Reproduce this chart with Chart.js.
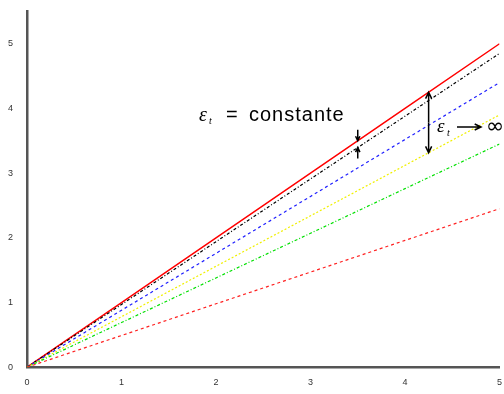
<!DOCTYPE html>
<html>
<head>
<meta charset="utf-8">
<script src="https://cdn.jsdelivr.net/npm/chart.js@4.4.0/dist/chart.umd.min.js"></script>
<style>
  html, body { margin: 0; padding: 0; background: #fff; }
  #wrap { width: 504px; height: 394px; }
</style>
</head>
<body>
<div id="wrap"><canvas id="strain-chart"></canvas></div>
<script>
// Chart data
var xValues = [0, 1, 2, 3, 4, 5];
var tickLabels = ["0", "1", "2", "3", "4", "5"];
var redSolid = [0, 1.0, 2.0, 3.0, 4.0, 5.0];
var blackDashDot = [0, 0.97, 1.94, 2.91, 3.88, 4.85];
var blueDashed = [0, 0.88, 1.76, 2.64, 3.52, 4.4];
var yellowDotted = [0, 0.78, 1.56, 2.34, 3.12, 3.9];
var greenDashDot = [0, 0.69, 1.38, 2.07, 2.76, 3.45];
var redDashed = [0, 0.49, 0.98, 1.47, 1.96, 2.45];

function toPoints(ys) {
    return xValues.map(function(x, i) { return { x: x, y: ys[i] }; });
}

function series(ys, color, dash, width) {
    return {
        data: toPoints(ys),
        borderColor: color,
        borderWidth: width || 1.2,
        borderDash: dash,
        pointRadius: 0,
        fill: false,
        tension: 0
    };
}

// annotations: text and arrows placed through the scales
var annotations = {
    id: "annotations",
    afterDatasetsDraw: function(chart) {
        var c = chart.ctx, xs = chart.scales.x, ys = chart.scales.y;
        function px(v) { return xs.getPixelForValue(v); }
        function py(v) { return ys.getPixelForValue(v); }
        function arrow(x1, y1, x2, y2, head) {
            var a = Math.atan2(y2 - y1, x2 - x1);
            c.beginPath();
            c.moveTo(x1, y1); c.lineTo(x2, y2);
            c.moveTo(x2 - head * Math.cos(a - 0.45), y2 - head * Math.sin(a - 0.45));
            c.lineTo(x2, y2);
            c.lineTo(x2 - head * Math.cos(a + 0.45), y2 - head * Math.sin(a + 0.45));
            c.stroke();
        }
        c.save();
        c.strokeStyle = "#000";
        c.fillStyle = "#000";
        c.lineWidth = 1.5;

        // small arrows between red and black at x = 3.5
        var xa = px(3.5);
        var yr = py(3.5 * redSolid[5] / 5), yb = py(3.5 * blackDashDot[5] / 5);
        arrow(xa, yr - 11, xa, yr, 5);
        arrow(xa, yb + 11, xa, yb, 5);

        // big double arrow at x = 4.25
        var xb = px(4.25);
        var y1 = py(4.25 * redSolid[5] / 5), y2 = py(4.25 * yellowDotted[5] / 5);
        arrow(xb, (y1 + y2) / 2, xb, y1, 7);
        arrow(xb, (y1 + y2) / 2, xb, y2, 7);

        // text: eps_t = constante
        c.textBaseline = "alphabetic";
        c.font = "italic 20px 'Liberation Serif'";
        c.fillText("\u03b5", 199, 121);
        c.font = "italic 10px 'Liberation Serif'";
        c.fillText("t", 209, 124);
        c.font = "20px 'Liberation Sans'";
        c.fillText("=", 226, 121);
        c.letterSpacing = "1px";
        c.fillText("constante", 249, 121);
        c.letterSpacing = "0px";

        // text: eps_t -> infinity
        c.font = "italic 19px 'Liberation Serif'";
        c.fillText("\u03b5", 437, 132);
        c.font = "italic 10px 'Liberation Serif'";
        c.fillText("t", 447, 136);
        arrow(457, 127, 481, 127, 7);
        c.font = "22px 'DejaVu Sans'";
        c.fillText("\u221e", 486, 133);
        c.restore();
    }
};

var chartData = {
    datasets: [
        series(redDashed, "#ff2020", [3, 3]),
        series(greenDashDot, "#00e000", [3, 2, 1, 2]),
        series(yellowDotted, "#f0f000", [2, 2]),
        series(blueDashed, "#2020ff", [3, 3]),
        series(blackDashDot, "#000000", [3, 2, 1, 2]),
        series(redSolid, "#ff0000", [], 1.5)
    ]
};

var chartOptions = {
    responsive: true,
    maintainAspectRatio: false,
    animation: false,
    layout: { padding: { top: 6, right: 1, left: 2, bottom: 4 } },
    plugins: {
        legend: { display: false },
        tooltip: { enabled: false }
    },
    scales: {
        x: {
            type: "linear",
            min: 0,
            max: 5,
            border: { display: true, color: "#555", width: 2.5 },
            grid: { display: false },
            ticks: {
                stepSize: 1,
                color: "#333",
                font: { size: 9, family: "Liberation Sans" },
                padding: 2,
                callback: function(v, i) { return tickLabels[i]; }
            }
        },
        y: {
            min: 0,
            max: 5.5,
            border: { display: true, color: "#555", width: 2.5 },
            grid: { display: false },
            ticks: {
                stepSize: 1,
                color: "#333",
                font: { size: 9, family: "Liberation Sans" },
                padding: 6,
                callback: function(v) { return Number.isInteger(v) ? tickLabels[v] : ""; }
            }
        }
    }
};

var ctx = document.getElementById("strain-chart");
var strainChart = new Chart(ctx, {
    type: "line",
    data: chartData,
    options: chartOptions,
    plugins: [annotations]
});
</script>
</body>
</html>
